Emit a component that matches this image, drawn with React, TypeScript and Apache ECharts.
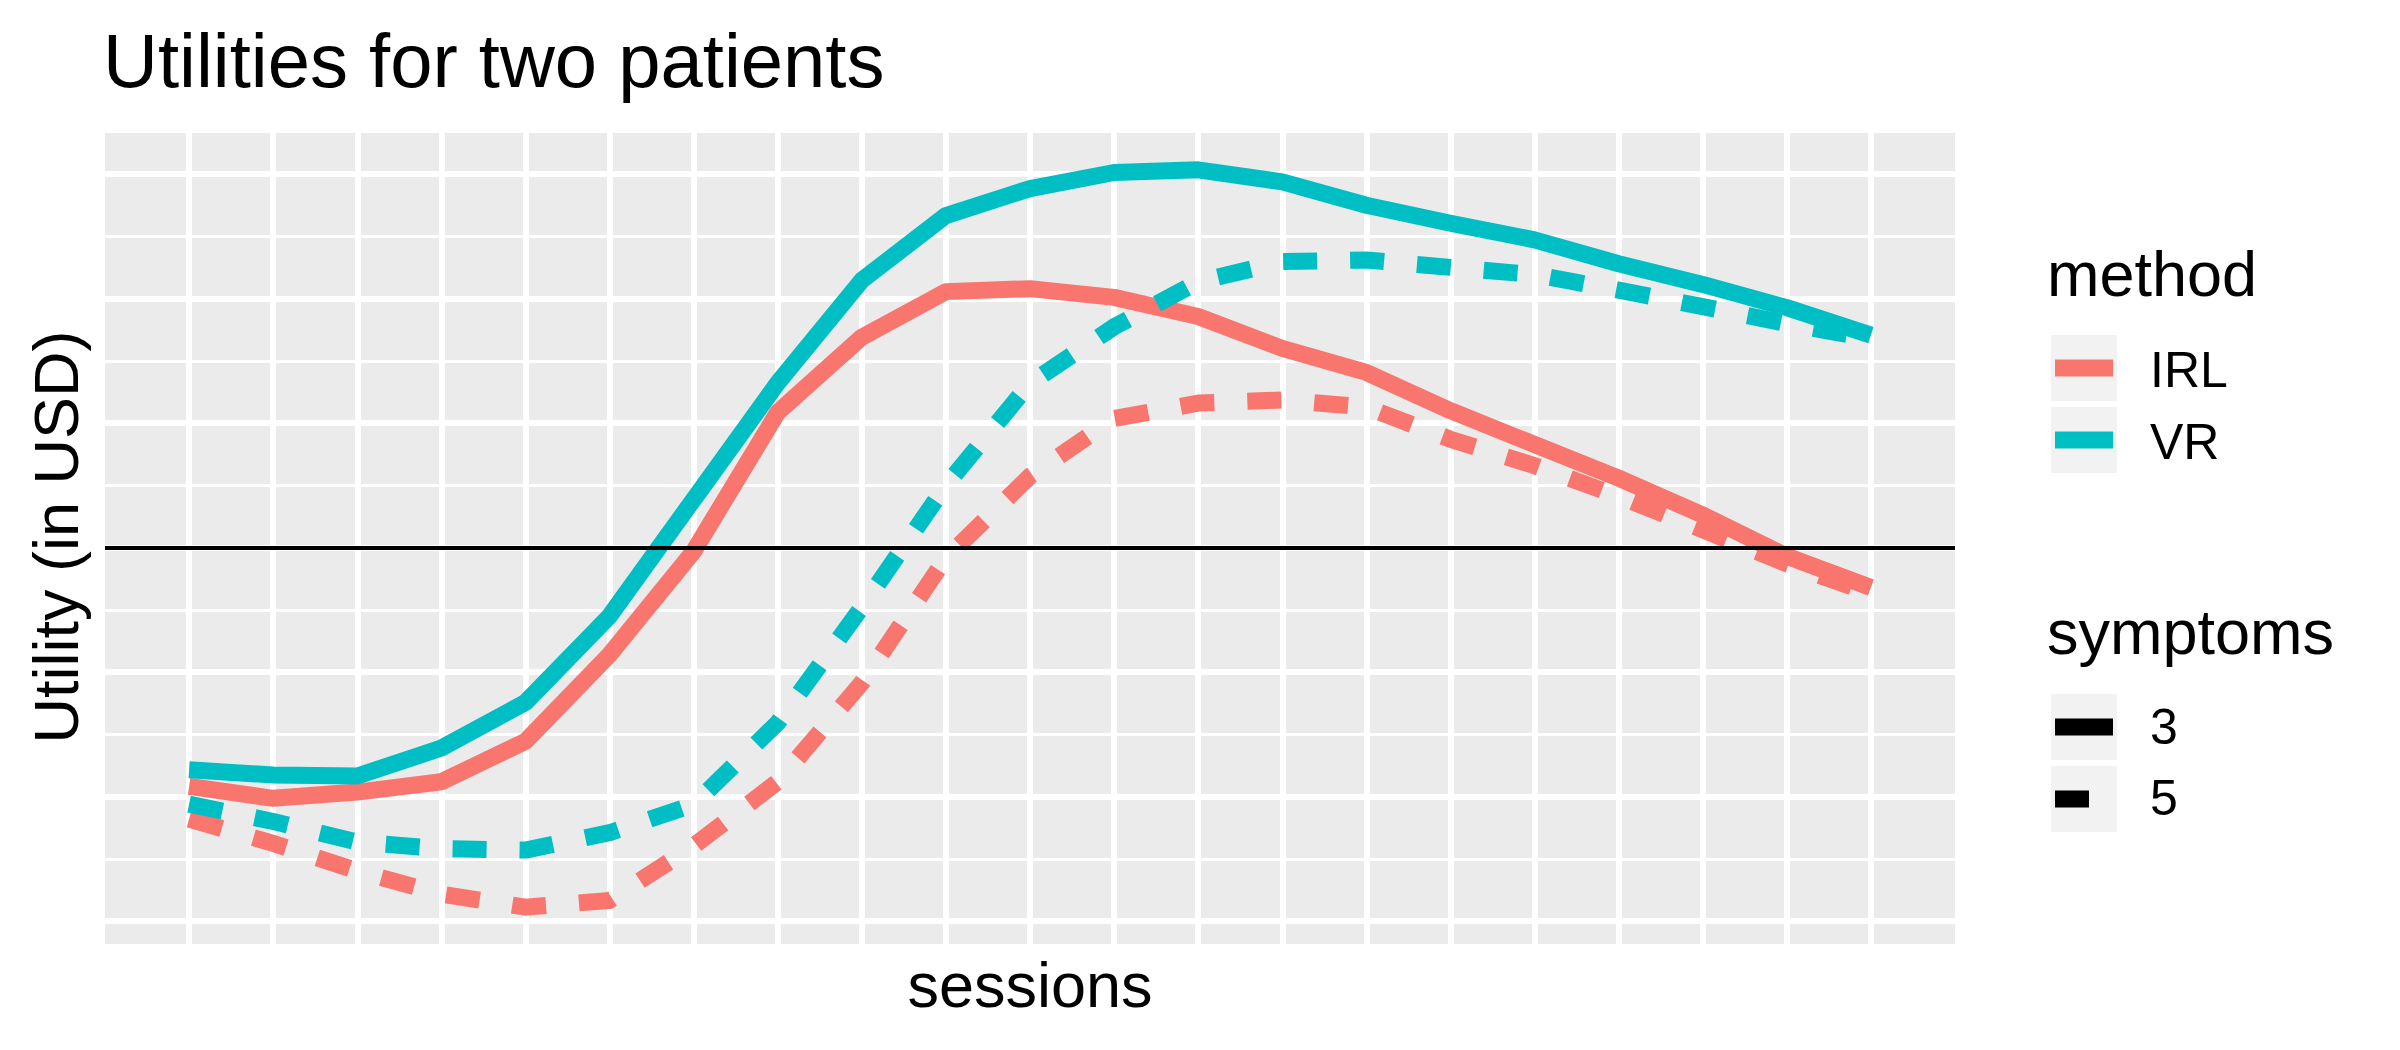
import React, { useEffect, useRef } from "react";
import * as echarts from "echarts";

// ---- data ----
const sessions = [1, 2, 3, 4, 5, 6, 7, 8, 9, 10, 11, 12, 13, 14, 15, 16, 17, 18, 19, 20, 21];

const irlSymptoms3 = [-1.918, -2.014, -1.964, -1.881, -1.556, -0.86, -0.03, 1.086, 1.69, 2.056, 2.08, 2.01, 1.856, 1.6, 1.407, 1.1, 0.828, 0.558, 0.262, -0.07, -0.32];
const irlSymptoms5 = [-2.18, -2.376, -2.597, -2.784, -2.888, -2.834, -2.397, -1.88, -1.086, -0.083, 0.574, 1.036, 1.161, 1.186, 1.128, 0.87, 0.658, 0.412, 0.143, -0.13, -0.37];
const vrSymptoms3 = [-1.785, -1.827, -1.835, -1.61, -1.244, -0.55, 0.387, 1.323, 2.147, 2.667, 2.884, 3.013, 3.034, 2.938, 2.75, 2.605, 2.472, 2.28, 2.114, 1.927, 1.706];
const vrSymptoms5 = [-2.06, -2.2, -2.365, -2.418, -2.43, -2.29, -2.064, -1.407, -0.479, 0.5, 1.32, 1.773, 2.135, 2.297, 2.31, 2.251, 2.193, 2.068, 1.935, 1.8, 1.677];

const hlineValue = 0;
const majorYBreaks = [-3, -2, -1, 0, 1, 2, 3];
const minorYBreaks = [-2.5, -1.5, -0.5, 0.5, 1.5, 2.5];

const methods = ["IRL", "VR"];
const symptomLevels = ["3", "5"];
const methodColors: Record<string, string> = { IRL: "#F8766D", VR: "#00BFC4" };

const titleText = "Utilities for two patients";
const xTitle = "sessions";
const yTitle = "Utility (in USD)";

// ---- style constants ----
const FONT = "'Liberation Sans', Arial, sans-serif";
const BASE = 63;
const CENTRAL = 0.3465; // central baseline offset (em) for Liberation Sans
const LINE_W = 17;
const DASH = [34, 33];

const mid = (baseline: number, fs: number) => baseline - CENTRAL * fs;

export default function App() {
  const ref = useRef<HTMLDivElement>(null);

  useEffect(() => {
    if (!ref.current) return;
    const chart = echarts.init(ref.current, undefined, { renderer: "svg" });

    const all = [...irlSymptoms3, ...irlSymptoms5, ...vrSymptoms3, ...vrSymptoms5];
    const dMin = Math.min(...all);
    const dMax = Math.max(...all);
    const yMin = dMin - 0.05 * (dMax - dMin);
    const yMax = dMax + 0.05 * (dMax - dMin);
    const sMin = Math.min(...sessions);
    const sMax = Math.max(...sessions);
    const xMin = sMin - 0.05 * (sMax - sMin);
    const xMax = sMax + 0.05 * (sMax - sMin);

    const mk = (name: string, vals: number[], color: string, dashed: boolean) => ({
      type: "line",
      name,
      data: sessions.map((s, i) => [s, vals[i]]),
      showSymbol: false,
      symbol: "none",
      silent: true,
      clip: true,
      lineStyle: {
        color,
        width: LINE_W,
        type: dashed ? DASH : "solid",
        dashOffset: 0,
        cap: "butt",
        join: "round",
      },
    });

    const hiddenAxisBase = {
      type: "value",
      min: yMin,
      max: yMax,
      axisLine: { show: false },
    };

    // legend drawing
    const legX = 2047;
    const keyX = 2051;
    const keyW = 66;
    const labX = 2150;
    const keyBoxes = [
      { y: 335, label: methods[0], color: methodColors.IRL, dashed: false, base: 387.5 },
      { y: 407, label: methods[1], color: methodColors.VR, dashed: false, base: 459 },
      { y: 694, label: symptomLevels[0], color: "#000000", dashed: false, base: 744 },
      { y: 766, label: symptomLevels[1], color: "#000000", dashed: true, base: 815 },
    ];
    const legendEls: any[] = [];
    legendEls.push({
      type: "text",
      x: legX,
      y: mid(295.5, BASE),
      style: { text: "method", font: `${BASE}px ${FONT}`, fill: "#000", textAlign: "left", textVerticalAlign: "middle" },
    });
    legendEls.push({
      type: "text",
      x: legX,
      y: mid(653.7, BASE),
      style: { text: "symptoms", font: `${BASE}px ${FONT}`, fill: "#000", textAlign: "left", textVerticalAlign: "middle" },
    });
    keyBoxes.forEach((k) => {
      legendEls.push({
        type: "rect",
        shape: { x: keyX, y: k.y, width: keyW, height: keyW },
        style: { fill: "#F2F2F2" },
      });
      legendEls.push({
        type: "line",
        shape: { x1: keyX + 4, y1: k.y + keyW / 2, x2: keyX + keyW - 4, y2: k.y + keyW / 2 },
        style: {
          stroke: k.color,
          lineWidth: LINE_W,
          lineCap: "butt",
          lineDash: k.dashed ? DASH : null,
        },
      });
      legendEls.push({
        type: "text",
        x: labX,
        y: mid(k.base, 50),
        style: { text: k.label, font: `50px ${FONT}`, fill: "#000", textAlign: "left", textVerticalAlign: "middle" },
      });
    });

    chart.setOption({
      animation: false,
      backgroundColor: "#FFFFFF",
      title: {
        text: titleText,
        left: 103,
        top: 87 - 0.8465 * 76,
        padding: 0,
        textStyle: { fontFamily: FONT, fontSize: 76, fontWeight: "normal", color: "#000" },
      },
      grid: {
        left: 105,
        top: 133,
        width: 1850,
        height: 811,
        show: true,
        backgroundColor: "#EBEBEB",
        borderWidth: 0,
        containLabel: false,
      },
      xAxis: {
        type: "value",
        min: xMin,
        max: xMax,
        interval: 1,
        axisLine: { show: false },
        axisTick: { show: false },
        axisLabel: { show: false },
        splitLine: {
          show: true,
          showMinLine: false,
          showMaxLine: false,
          lineStyle: { color: "#FFFFFF", width: 6 },
        },
      },
      yAxis: [
        {
          ...hiddenAxisBase,
          axisTick: { show: false, customValues: minorYBreaks },
          axisLabel: { show: false, customValues: minorYBreaks },
          splitLine: { show: true, lineStyle: { color: "#FFFFFF", width: 3 } },
        },
        {
          ...hiddenAxisBase,
          axisTick: { show: false, customValues: majorYBreaks },
          axisLabel: { show: false, customValues: majorYBreaks },
          splitLine: { show: true, lineStyle: { color: "#FFFFFF", width: 6 } },
        },
      ],
      series: [
        mk("IRL-3", irlSymptoms3, methodColors.IRL, false),
        mk("IRL-5", irlSymptoms5, methodColors.IRL, true),
        mk("VR-3", vrSymptoms3, methodColors.VR, false),
        mk("VR-5", vrSymptoms5, methodColors.VR, true),
        {
          type: "line",
          name: "hline",
          data: [],
          silent: true,
          z: 10,
          markLine: {
            silent: true,
            symbol: ["none", "none"],
            label: { show: false },
            lineStyle: { color: "#000000", width: 4, type: "solid" },
            data: [{ yAxis: hlineValue }],
            z: 10,
          },
        },
      ],
      graphic: [
        {
          type: "text",
          x: 1030,
          y: mid(1006.7, BASE),
          style: { text: xTitle, font: `${BASE}px ${FONT}`, fill: "#000", textAlign: "center", textVerticalAlign: "middle" },
        },
        {
          type: "text",
          x: 78 - CENTRAL * BASE,
          y: 537,
          rotation: Math.PI / 2,
          style: { text: yTitle, font: `${BASE}px ${FONT}`, fill: "#000", textAlign: "center", textVerticalAlign: "middle" },
        },
        ...legendEls,
      ],
    });

    return () => {
      chart.dispose();
    };
  }, []);

  return (
    <div
      ref={ref}
      style={{ position: "absolute", left: 0, top: 0, width: 2400, height: 1050, background: "#FFFFFF" }}
    />
  );
}
